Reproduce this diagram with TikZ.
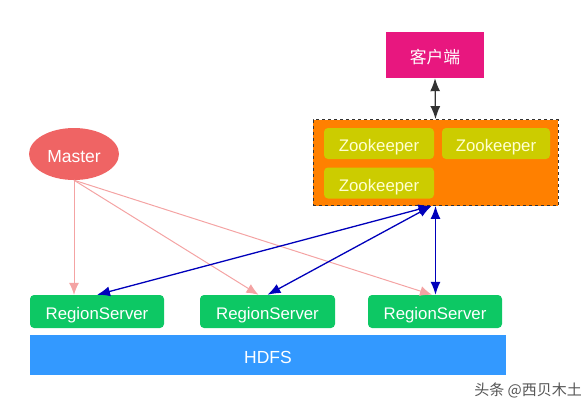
\documentclass[tikz,border=0pt]{standalone}
\usepackage{fontspec}
\setmainfont{Liberation Sans}
\newfontfamily\cjk{Noto Sans CJK SC}
\usetikzlibrary{arrows.meta,shapes.geometric}
\definecolor{clientc}{HTML}{E8177F}
\definecolor{orangec}{HTML}{FF8000}
\definecolor{zkc}{HTML}{CCCC00}
\definecolor{zktext}{HTML}{FFFFD0}
\definecolor{masterc}{HTML}{EF6464}
\definecolor{rsc}{HTML}{0DC864}
\definecolor{hdfsc}{HTML}{3399FF}
\definecolor{pinkarr}{HTML}{F4A3A3}
\definecolor{bluearr}{HTML}{0000BB}
\definecolor{darkarr}{HTML}{333333}
\definecolor{wmc}{HTML}{555555}
\begin{document}
\begin{tikzpicture}[x=1pt,y=-1pt,
  base/.style={inner sep=0pt,font=\fontsize{16.8}{20}\selectfont,text=white,text height=16pt,text depth=0pt},
  boxc/.style={base,rectangle,fill=clientc,minimum width=98pt,minimum height=46pt},
  zoneb/.style={base,rectangle,fill=orangec,draw=black!80,dashed,line width=0.8pt,minimum width=245pt,minimum height=86pt},
  zkbox/.style={base,rectangle,rounded corners=4pt,fill=zkc,text=zktext,minimum height=31pt},
  masterb/.style={base,ellipse,fill=masterc,minimum width=90pt,minimum height=52pt,font=\fontsize{17.5}{20}\selectfont},
  rsbox/.style={base,rectangle,rounded corners=4pt,fill=rsc,minimum width=134pt,minimum height=33pt},
  hdfsb/.style={base,rectangle,fill=hdfsc,minimum width=476pt,minimum height=40pt,font=\fontsize{17.5}{20}\selectfont},
  pinkline/.style={pinkarr,line width=1pt,-{Latex[length=12pt,width=10pt]}},
  blueline/.style={bluearr,line width=1.3pt,{Latex[length=13pt,width=10pt]}-{Latex[length=13pt,width=10pt]}},
  darkline/.style={darkarr,line width=1.3pt,{Latex[length=13pt,width=10pt]}-{Latex[length=13pt,width=10pt]}},
  wmark/.style={inner sep=0pt,font=\cjk\fontsize{15}{17}\selectfont,text=wmc}
]
\useasboundingbox (0,0) rectangle (588,402);
\node[boxc] (client) at (435,55) {\cjk 客户端};
\node[zoneb] (zone) at (435.5,162.5) {};
\node[zkbox,minimum width=110pt] (zk1) at (379,143.5) {Zookeeper};
\node[zkbox,minimum width=108pt] (zk2) at (496,143.5) {Zookeeper};
\node[zkbox,minimum width=110pt] (zk3) at (379,183) {Zookeeper};
\node[masterb] (master) at (74,154) {Master};
\node[rsbox] (rs1) at (97,311.5) {RegionServer};
\node[rsbox,minimum width=135pt] (rs2) at (267.5,311.5) {RegionServer};
\node[rsbox] (rs3) at (435,311.5) {RegionServer};
\node[hdfsb] (hdfs) at (268,355) {HDFS};
\node[wmark,anchor=east] (wm) at (582,390) {头条 @西贝木土};
\coordinate (zs) at ([xshift=-4pt]zone.south);
\draw[darkline] (client.south) -- (zone.north);
\draw[pinkline] (master.south) -- (master.south |- rs1.north);
\draw[pinkline] (master.south) -- ([xshift=-9pt]rs2.north);
\draw[pinkline] (master.south) -- ([xshift=-3pt]rs3.north);
\draw[blueline] (zs) -- (rs1.north);
\draw[blueline] (zs) -- (rs2.north);
\draw[blueline] (zone.south) -- (zone.south |- rs3.north);
\end{tikzpicture}
\end{document}
